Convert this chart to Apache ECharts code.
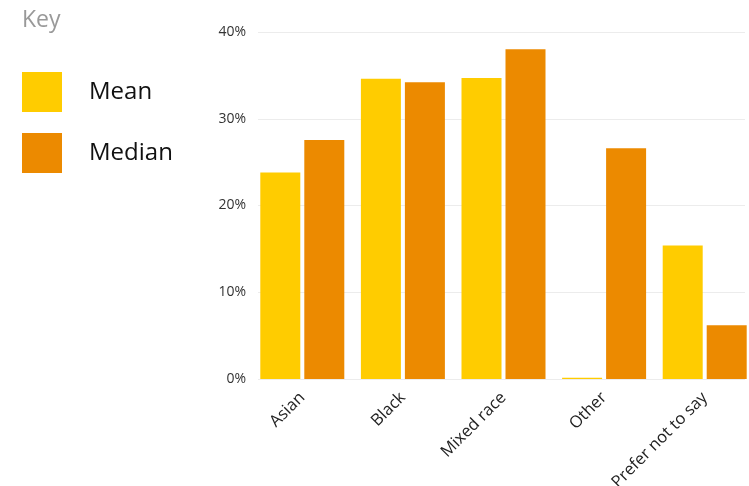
<!DOCTYPE html>
<html><head><meta charset="utf-8">
<script src="https://cdn.jsdelivr.net/npm/echarts@6/dist/echarts.min.js"></script>
<style>html,body{margin:0;padding:0;background:#fff;overflow:hidden}#c{width:749px;height:486px}</style>
</head><body><div id="c"></div>
<script>
var categories = ['Asian', 'Black', 'Mixed race', 'Other', 'Prefer not to say'];
var meanValues = [23.8, 34.6, 34.7, 0.15, 15.4];
var medianValues = [27.55, 34.2, 38.0, 26.6, 6.2];
var yTicks = [0, 10, 20, 30, 40];
var seriesNames = ['Mean', 'Median'];

var font = '"Open Sans", "Noto Sans", sans-serif';
var chart = echarts.init(document.getElementById('c'), null, {renderer: 'canvas'});
chart.setOption({
  animation: false,
  title: {text: 'Key', left: 22, top: 9, padding: 0, textStyle: {fontFamily: font, fontSize: 23, fontWeight: 'normal', color: '#999'}},
  legend: {
    orient: 'vertical', left: 22, top: 72, padding: 0, itemWidth: 40, itemHeight: 40, itemGap: 21,
    icon: 'rect', data: seriesNames,
    textStyle: {fontFamily: font, fontSize: 24, color: '#111', padding: [0, 0, 0, 22]}
  },
  grid: [
    {left: 252, right: -6, top: 32, bottom: 107, outerBoundsMode: 'none', containLabel: false},
    {left: 258, right: 4, top: 32, bottom: 107, outerBoundsMode: 'none', containLabel: false}
  ],
  xAxis: [
    {type: 'category', gridIndex: 0, data: categories,
     axisLine: {show: false}, axisTick: {show: false},
     axisLabel: {rotate: 45, fontFamily: font, fontSize: 16.5, color: '#222', margin: 16, interval: 0}},
    {type: 'category', gridIndex: 1, data: categories, show: false}
  ],
  yAxis: [
    {type: 'value', gridIndex: 0, min: 0, max: 40, interval: 10,
     axisLine: {show: false}, axisTick: {show: false}, splitLine: {show: false},
     axisLabel: {formatter: function(v){return yTicks.indexOf(v) >= 0 ? v + '%' : '';}, fontFamily: font, fontSize: 14, color: '#333', margin: 6}},
    {type: 'value', gridIndex: 1, min: 0, max: 40, interval: 10,
     axisLine: {show: false}, axisTick: {show: false}, axisLabel: {show: false},
     splitLine: {show: true, lineStyle: {color: '#ececec', width: 1}}}
  ],
  series: [
    {name: 'Mean', type: 'bar', xAxisIndex: 0, yAxisIndex: 0, data: meanValues, barWidth: 40, barGap: '10%', itemStyle: {color: '#FFCC00'}},
    {name: 'Median', type: 'bar', xAxisIndex: 0, yAxisIndex: 0, data: medianValues, barWidth: 40, barGap: '10%', itemStyle: {color: '#EC8A00'}}
  ]
});
</script></body></html>
